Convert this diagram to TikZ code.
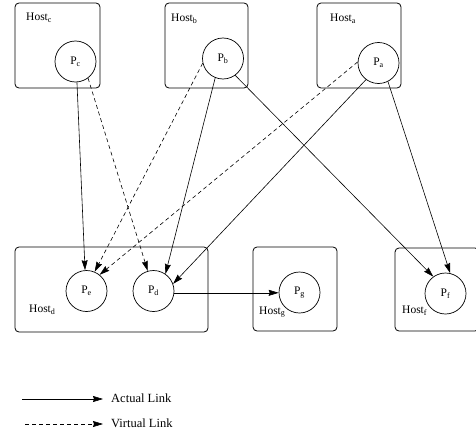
\documentclass[tikz,border=0pt]{standalone}
\usepackage{fontspec}
\setmainfont{Liberation Serif}
\usetikzlibrary{arrows.meta}
\begin{document}
\begin{tikzpicture}[x=1pt,y=-1pt,
  hostbox/.style={draw, line width=0.8pt, rounded corners=4pt, inner sep=0pt},
  proc/.style={draw, circle, line width=0.7pt, minimum size=41pt, inner sep=0pt, font=\fontsize{11.5}{13}\selectfont},
  lbl/.style={anchor=west, inner sep=0pt, font=\fontsize{11.5}{13}\selectfont},
  leglbl/.style={anchor=west, inner sep=0pt, font=\fontsize{12.5}{14}\selectfont},
  actual/.style={line width=0.6pt, -{Stealth[length=10pt,width=6pt,inset=1pt]}},
  virtual/.style={actual, dash pattern=on 4pt off 3pt}]
\useasboundingbox (0,0) rectangle (476,436);
% host boxes
\node[hostbox, minimum width=85pt, minimum height=85pt] (Hc) at (57.5,45.5) {};
\node[hostbox, minimum width=83pt, minimum height=85pt] (Hb) at (206.5,45.5) {};
\node[hostbox, minimum width=84pt, minimum height=85pt] (Ha) at (359,45.5) {};
\node[hostbox, minimum width=193pt, minimum height=85pt] (Hd) at (111.5,289.5) {};
\node[hostbox, minimum width=84pt, minimum height=84pt] (Hg) at (295,289) {};
\node[hostbox, minimum width=84pt, minimum height=83pt] (Hf) at (437,289.5) {};
% host labels
\node[lbl] (Lc) at (26,18) {Host\textsubscript{c}};
\node[lbl] (Lb) at (171,19) {Host\textsubscript{b}};
\node[lbl] (La) at (330,19) {Host\textsubscript{a}};
\node[lbl] (Ld) at (29,310) {Host\textsubscript{d}};
\node[lbl] (Lg) at (259,312) {Host\textsubscript{g}};
\node[lbl] (Lf) at (402,311) {Host\textsubscript{f}};
% processes
\node[proc] (Pc) at (75.5,61.5) {P\textsubscript{c}};
\node[proc] (Pb) at (223,58.5) {P\textsubscript{b}};
\node[proc] (Pa) at (378.5,63) {P\textsubscript{a}};
\node[proc] (Pe) at (86.5,291) {P\textsubscript{e}};
\node[proc] (Pd) at (153.5,291) {P\textsubscript{d}};
\node[proc] (Pg) at (299.5,292.5) {P\textsubscript{g}};
\node[proc] (Pf) at (445.5,293.5) {P\textsubscript{f}};
% actual links
\draw[actual] (Pc.-86) -- (Pe.94);
\draw[actual] (Pb.-112) -- (Pd.55);
\draw[actual] (Pb.-54) -- (Pf.126);
\draw[actual] (Pa.-127) -- (Pd.20);
\draw[actual] (Pa.-63) -- (Pf.77);
\draw[actual] (Pd.-5) -- (Pd.-5 -| Pg.west);
% virtual links
\draw[virtual] (Pc.-53) -- (Pd.106);
\draw[virtual] (Pb.-167) -- (Pe.67);
\draw[virtual] (Pa.177) -- (Pe.51);
% legend
\coordinate (A1) at (22,399);
\coordinate (A2) at (103,399);
\coordinate (V1) at (25,424);
\coordinate (V2) at (103,424);
\node[leglbl] (LA) at (111,398) {Actual Link};
\node[leglbl] (LV) at (111,423) {Virtual Link};
\draw[actual] (A1) -- (A2);
\draw[virtual] (V1) -- (V2);
\end{tikzpicture}
\end{document}
